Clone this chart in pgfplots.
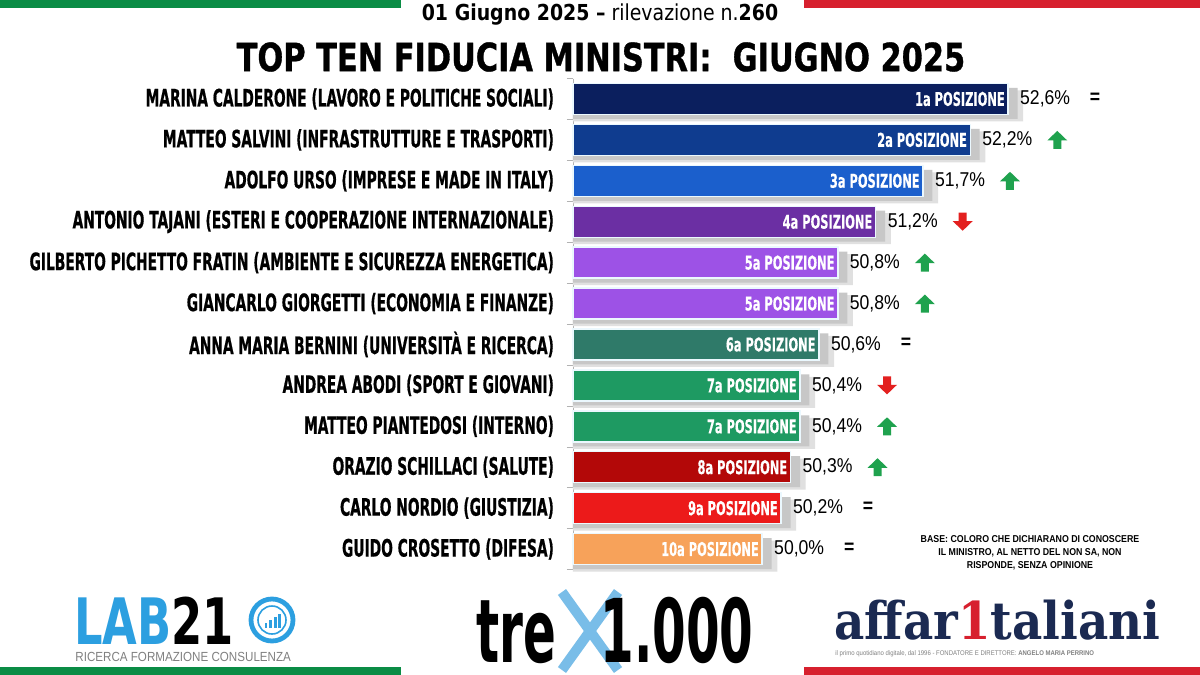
\documentclass[border=0pt]{standalone}
\usepackage{pgfplots}
\pgfplotsset{compat=1.18}
\usepackage{pgfplotstable}
\usepackage{fontspec}
\setmainfont{Liberation Sans}
\newfontfamily\labfam{DejaVu Sans}[FakeStretch=0.575, FakeBold=0.6]
\newfontfamily\posfam{DejaVu Sans}[FakeStretch=0.6, FakeBold=0.4]
\newfontfamily\titfam{DejaVu Sans}[FakeStretch=0.78, FakeBold=0.8]
\newfontfamily\subfam{DejaVu Sans}[FakeStretch=0.86]
\newfontfamily\valfam{Liberation Sans}[FakeStretch=0.88]
\newfontfamily\logofam{DejaVu Sans}[FakeStretch=0.55]
\newfontfamily\labtxt{DejaVu Sans}[FakeStretch=0.7]
\newfontfamily\affam{DejaVu Serif}[FakeStretch=0.9]

\definecolor{c0}{HTML}{0B1F5E}
\definecolor{c1}{HTML}{0F3C8F}
\definecolor{c2}{HTML}{1B5FCC}
\definecolor{c3}{HTML}{6B2FA3}
\definecolor{c4}{HTML}{9D52E6}
\definecolor{c5}{HTML}{9D52E6}
\definecolor{c6}{HTML}{2F7A69}
\definecolor{c7}{HTML}{1E9A62}
\definecolor{c8}{HTML}{1E9A62}
\definecolor{c9}{HTML}{B30808}
\definecolor{c10}{HTML}{EC1A1A}
\definecolor{c11}{HTML}{F7A25A}
\definecolor{flaggreen}{HTML}{0A8C45}
\definecolor{flagred}{HTML}{D7202E}
\definecolor{upgreen}{HTML}{1FA24E}
\definecolor{downred}{HTML}{E3201F}
\definecolor{labblue}{HTML}{2C9FE0}
\definecolor{xblue}{HTML}{79BDE8}
\definecolor{afnavy}{HTML}{1B2A52}

% block arrows used as plot marks
\pgfdeclareplotmark{arrup}{%
  \pgfpathmoveto{\pgfpoint{0pt}{4.5pt}}%
  \pgfpathlineto{\pgfpoint{5pt}{-0.3pt}}%
  \pgfpathlineto{\pgfpoint{2pt}{-0.3pt}}%
  \pgfpathlineto{\pgfpoint{2pt}{-4.5pt}}%
  \pgfpathlineto{\pgfpoint{-2pt}{-4.5pt}}%
  \pgfpathlineto{\pgfpoint{-2pt}{-0.3pt}}%
  \pgfpathlineto{\pgfpoint{-5pt}{-0.3pt}}%
  \pgfpathclose\pgfusepathqfill}
\pgfdeclareplotmark{arrdown}{%
  \pgfpathmoveto{\pgfpoint{0pt}{-4.5pt}}%
  \pgfpathlineto{\pgfpoint{5pt}{0.3pt}}%
  \pgfpathlineto{\pgfpoint{2pt}{0.3pt}}%
  \pgfpathlineto{\pgfpoint{2pt}{4.5pt}}%
  \pgfpathlineto{\pgfpoint{-2pt}{4.5pt}}%
  \pgfpathlineto{\pgfpoint{-2pt}{0.3pt}}%
  \pgfpathlineto{\pgfpoint{-5pt}{0.3pt}}%
  \pgfpathclose\pgfusepathqfill}

% y: row from the top, val: fiducia (%), pos: rank, tr: 1 up, -1 down, 0 unchanged
\pgfplotstableread{
y val pos tr
0 52.6 1a 0
1 52.2 2a 1
2 51.7 3a 1
3 51.2 4a -1
4 50.8 5a 1
5 50.8 5a 1
6 50.6 6a 0
7 50.4 7a -1
8 50.4 7a 1
9 50.3 8a 1
10 50.2 9a 0
11 50.0 10a 0
}\data

\begin{document}
\begin{tikzpicture}
\path[use as bounding box] (0,0) rectangle (600pt,-337.5pt);
\fill[white] (0,0) rectangle (600pt,-337.5pt);
% flag stripes
\fill[flaggreen] (0,0) rectangle (200.5pt,-4pt);
\fill[flagred] (402pt,0) rectangle (600pt,-4pt);
\fill[flaggreen] (0,-333.5pt) rectangle (200.5pt,-337.5pt);
\fill[flagred] (402pt,-333.5pt) rectangle (600pt,-337.5pt);

\node[font=\subfam\fontsize{11}{11}\selectfont] at (300pt,-7.5pt)
  {\textbf{01 Giugno 2025 –} rilevazione n.\textbf{260}};
\node[font=\titfam\bfseries\fontsize{19.5}{19.5}\selectfont] at (300.5pt,-28.5pt)
  {TOP TEN FIDUCIA MINISTRI:\ \ GIUGNO 2025};

\begin{axis}[
  at={(286.5pt,-39.25pt)}, anchor=north west,
  scale only axis, width=288.5pt, height=245.5pt,
  xmin=0, xmax=6.1, ymin=-0.5, ymax=11.5, y dir=reverse,
  enlargelimits=false, clip=false,
  /pgf/number format/assume math mode=true,
  axis x line=none,
  axis y line=left, y axis line style={-, draw=gray!60},
  ytick={0,...,11},
  yticklabels={
    {MARINA CALDERONE (LAVORO E POLITICHE SOCIALI)},
    {MATTEO SALVINI (INFRASTRUTTURE E TRASPORTI)},
    {ADOLFO URSO (IMPRESE E MADE IN ITALY)},
    {ANTONIO TAJANI (ESTERI E COOPERAZIONE INTERNAZIONALE)},
    {GILBERTO PICHETTO FRATIN (AMBIENTE E SICUREZZA ENERGETICA)},
    {GIANCARLO GIORGETTI (ECONOMIA E FINANZE)},
    {ANNA MARIA BERNINI (UNIVERSITÀ E RICERCA)},
    {ANDREA ABODI (SPORT E GIOVANI)},
    {MATTEO PIANTEDOSI (INTERNO)},
    {ORAZIO SCHILLACI (SALUTE)},
    {CARLO NORDIO (GIUSTIZIA)},
    {GUIDO CROSETTO (DIFESA)}},
  yticklabel style={font=\labfam\bfseries\fontsize{12}{12}\selectfont, anchor=east, xshift=-6pt},
  major tick length=0pt,
  minor ytick={-0.5,0.5,...,11.5},
  minor tick length=3pt, tick align=outside,
  minor tick style={gray!60},
]
% soft shadow
\addplot[xbar, bar shift=0pt, bar width=15.5pt, fill=black!12, draw=none]
  table[x expr=\thisrow{val}-48+0.16, y expr=\thisrow{y}+0.17] {\data};
\addplot[xbar, bar shift=0pt, bar width=15.5pt, fill=black!22, draw=none]
  table[x expr=\thisrow{val}-48+0.1, y expr=\thisrow{y}+0.11] {\data};
% bars, one colour per row
\pgfplotsinvokeforeach{0,...,11}{
  \addplot[xbar, bar shift=0pt, bar width=15.5pt, fill=c#1, draw=cyan!8, line width=0.7pt]
    table[x expr=\thisrow{val}-48, y=y, restrict y to domain=#1:#1] {\data};
}
% rank inside bars
\addplot[xbar, bar shift=0pt, bar width=15.5pt, draw=none, fill=none,
  point meta=explicit symbolic,
  nodes near coords={\pgfplotspointmeta\ POSIZIONE},
  nodes near coords style={anchor=east, text=white, inner sep=1.5pt,
    font=\posfam\bfseries\fontsize{9.5}{9.5}\selectfont}]
  table[x expr=\thisrow{val}-48, y=y, meta=pos] {\data};
% values
\addplot[xbar, bar shift=0pt, bar width=15.5pt, draw=none, fill=none,
  point meta=\thisrow{val},
  nodes near coords={\pgfmathprintnumber[fixed,fixed zerofill,precision=1,use comma]{\pgfplotspointmeta}\%},
  nodes near coords style={anchor=west, text=black, xshift=2.5pt,
    font=\valfam\fontsize{10}{10}\selectfont}]
  table[x expr=\thisrow{val}-48, y=y] {\data};
% trend: up, down, unchanged
\addplot[only marks, mark=arrup, color=upgreen, mark options={xshift=43.5pt},
  restrict expr to domain={\thisrow{tr}}{1:1}]
  table[x expr=\thisrow{val}-48, y=y] {\data};
\addplot[only marks, mark=arrdown, color=downred, mark options={xshift=43.5pt},
  restrict expr to domain={\thisrow{tr}}{-1:-1}]
  table[x expr=\thisrow{val}-48, y=y] {\data};
\addplot[only marks, mark=none, restrict expr to domain={\thisrow{tr}}{0:0},
  nodes near coords={=}, nodes near coords style={anchor=center, xshift=43.5pt, yshift=0.5pt,
    inner sep=0pt, font=\valfam\bfseries\fontsize{10}{10}\selectfont}]
  table[x expr=\thisrow{val}-48, y=y] {\data};
\end{axis}

% note
\node[align=center, font=\valfam\bfseries\fontsize{5}{6.5}\selectfont] at (515pt,-276.5pt)
  {BASE: COLORO CHE DICHIARANO DI CONOSCERE\\IL MINISTRO, AL NETTO DEL NON SA, NON\\RISPONDE, SENZA OPINIONE};

% LAB21
\node[anchor=base west, inner sep=0pt, font=\labtxt\bfseries\fontsize{32}{32}\selectfont] at (37pt,-322pt)
  {\textcolor{labblue}{LAB}21};
\draw[labblue, line width=2.4pt] (136pt,-310pt) circle (10.5pt);
\draw[labblue, line width=0.8pt] (136pt,-310pt) circle (7pt);
\foreach \h [count=\i] in {2.5,4,5.5,7}
  \fill[labblue] (130pt+\i*2.3pt,-314pt) rectangle ++(1.4pt,\h pt);
\node[anchor=base west, inner sep=0pt, text=gray, font=\valfam\fontsize{6.6}{7}\selectfont] at (37.5pt,-330.5pt)
  {RICERCA FORMAZIONE CONSULENZA};

% tre x 1.000
\draw[xblue, line width=5pt] (281pt,-296pt) -- (309pt,-335pt);
\draw[xblue, line width=5pt] (309pt,-296pt) -- (281pt,-335pt);
\node[anchor=base west, inner sep=0pt, font=\logofam\bfseries\fontsize{44}{44}\selectfont] at (238pt,-331pt) {tre};
\node[anchor=base west, inner sep=0pt, font=\logofam\bfseries\fontsize{44}{44}\selectfont] at (300pt,-331pt) {1.000};

% affaritaliani
\node[anchor=west, inner sep=0pt, text=afnavy, font=\affam\bfseries\fontsize{26}{26}\selectfont] at (417pt,-310pt)
  {affar\textcolor{flagred}{1}taliani};
\node[anchor=west, inner sep=0pt, text=gray, font=\valfam\fontsize{3.4}{4}\selectfont] at (417.5pt,-327pt)
  {il primo quotidiano digitale, dal 1996 - FONDATORE E DIRETTORE: \textbf{ANGELO MARIA PERRINO}};
\end{tikzpicture}
\end{document}
